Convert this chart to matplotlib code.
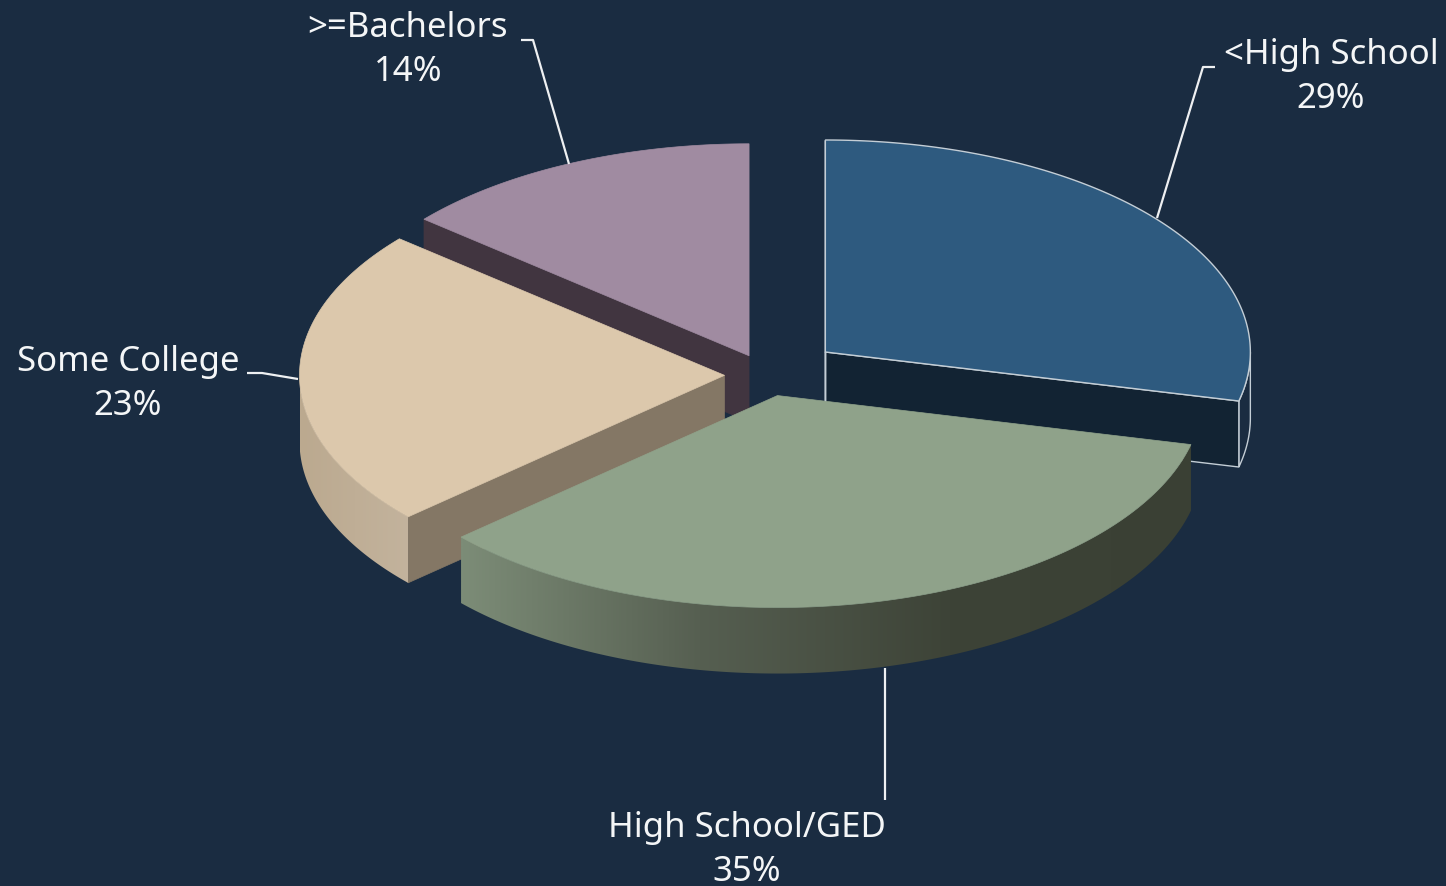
"""Exploded 3D-style pie of education level, drawn as projected ellipses."""

from __future__ import annotations

import matplotlib

matplotlib.use("Agg")
import matplotlib.pyplot as plt  # noqa: E402
import numpy as np  # noqa: E402
from matplotlib.colors import to_rgb  # noqa: E402
from matplotlib.patches import Polygon  # noqa: E402

CATEGORIES = ["<High School", "High School/GED", "Some College", ">=Bachelors"]
PERCENTS = [29, 35, 23, 14]

BACKGROUND = "#1a2c41"
TOP_COLORS = ["#2e5a7f", "#8fa28a", "#dcc8ac", "#a08ba1"]
CUT_COLORS = ["#122333", "#3a4034", "#847765", "#413540"]
OUTLINE = "#c4ced6"
LABEL_COLOR = "#f4f6f7"

# pie geometry in pixels
CENTER = (767.0, 375.0)
RX, RY = 425.0, 212.0
DEPTH = 66.0
EXPLODE = [0.175, 0.10, 0.10, 0.10]

# rim shading, as (x pixel, colour) stops
GREEN_RIM = [(463, "#7c8c77"), (700, "#565f51"), (950, "#3d4337"), (1192, "#3a4034")]
TAN_RIM = [(298, "#bba98f"), (410, "#c3b39d")]

# leader lines and label centres
LEADERS = [
    [(1157, 218), (1203, 67), (1215, 67)],
    [(885, 668), (885, 800)],
    [(298, 379), (262, 373), (247, 373)],
    [(569, 164), (533, 40), (521, 40)],
]
LABEL_POS = [(1331, 77), (747, 850), (128, 384), (408, 50)]


def rim(center, angles):
    """Points on the top ellipse, angles in degrees clockwise from 12 o'clock."""
    rad = np.radians(angles)
    return np.column_stack(
        [center[0] + RX * np.sin(rad), center[1] - RY * np.cos(rad)]
    )


def lower(points):
    return points + np.array([0.0, DEPTH])


def wall_polygon(top_edge):
    return np.vstack([top_edge, lower(top_edge)[::-1]])


def shaded_rim(ax, center, start, end, stops, zorder):
    """Fill the curved outer wall with a left-to-right colour ramp."""
    outline = wall_polygon(rim(center, np.linspace(start, end, 200)))
    x0, x1 = outline[:, 0].min(), outline[:, 0].max()
    y0, y1 = outline[:, 1].min(), outline[:, 1].max()
    xs = np.linspace(x0, x1, 512)
    rgb = np.array([to_rgb(s[1]) for s in stops])
    stop_x = [s[0] for s in stops]
    ramp = np.column_stack([np.interp(xs, stop_x, rgb[:, k]) for k in range(3)])
    image = ax.imshow(
        ramp[np.newaxis, :, :],
        extent=(x0, x1, y1, y0),
        aspect="auto",
        interpolation="bilinear",
        zorder=zorder,
    )
    clip = Polygon(outline, closed=True, transform=ax.transData)
    image.set_clip_path(clip)


fig = plt.figure(figsize=(14.46, 8.86), dpi=100, facecolor=BACKGROUND)
ax = fig.add_axes([0, 0, 1, 1])
ax.axis("off")

fractions = np.array(PERCENTS, dtype=float) / sum(PERCENTS)
edges = np.concatenate([[0.0], np.cumsum(fractions) * 360.0])
starts, ends = edges[:-1], edges[1:]

centers = []
for k in range(len(PERCENTS)):
    mid = np.radians((starts[k] + ends[k]) / 2)
    offset = EXPLODE[k]
    centers.append(
        (CENTER[0] + offset * RX * np.sin(mid), CENTER[1] - offset * RY * np.cos(mid))
    )


def top_face(k):
    arc = rim(centers[k], np.linspace(starts[k], ends[k], 200))
    return np.vstack([[centers[k]], arc])


def cut_edge(k, angle):
    return np.vstack([[centers[k]], rim(centers[k], np.array([angle]))])


def add_face(points, color, zorder, **kwargs):
    kwargs.setdefault("linewidth", 0.5)
    kwargs.setdefault("edgecolor", color)
    ax.add_patch(Polygon(points, closed=True, facecolor=color, zorder=zorder, **kwargs))


# back slice
add_face(wall_polygon(cut_edge(3, starts[3])), CUT_COLORS[3], 1)
add_face(top_face(3), TOP_COLORS[3], 2)

# outlined dark slice on the right
blue_rim = rim(centers[0], np.linspace(90, ends[0], 30))
add_face(wall_polygon(blue_rim), BACKGROUND, 3, edgecolor=OUTLINE, linewidth=1.0)
add_face(wall_polygon(cut_edge(0, ends[0])), CUT_COLORS[0], 4, edgecolor=OUTLINE, linewidth=1.0)
add_face(wall_polygon(cut_edge(0, starts[0])), CUT_COLORS[0], 4, edgecolor=OUTLINE, linewidth=1.0)
add_face(top_face(0), TOP_COLORS[0], 5, edgecolor=OUTLINE, linewidth=1.0)

# left slice
add_face(wall_polygon(cut_edge(2, starts[2])), CUT_COLORS[2], 6)
shaded_rim(ax, centers[2], starts[2], 270, TAN_RIM, 7)
add_face(top_face(2), TOP_COLORS[2], 8)

# front slice
shaded_rim(ax, centers[1], starts[1], ends[1], GREEN_RIM, 9)
add_face(top_face(1), TOP_COLORS[1], 10)

for path in LEADERS:
    xs, ys = zip(*path)
    ax.plot(xs, ys, color="#eef0f2", linewidth=1.6, solid_capstyle="butt", zorder=11, clip_on=False)

for name, pct, (x, y) in zip(CATEGORIES, PERCENTS, LABEL_POS):
    ax.text(
        x,
        y,
        f"{name}\n{pct}%",
        ha="center",
        va="center",
        multialignment="center",
        color=LABEL_COLOR,
        fontsize=25,
        fontfamily="Noto Sans",
        linespacing=1.42,
        zorder=12,
    )

ax.set_xlim(0, 1446)
ax.set_ylim(886, 0)

fig.savefig("out.png", dpi=100, facecolor=BACKGROUND)
plt.close(fig)
